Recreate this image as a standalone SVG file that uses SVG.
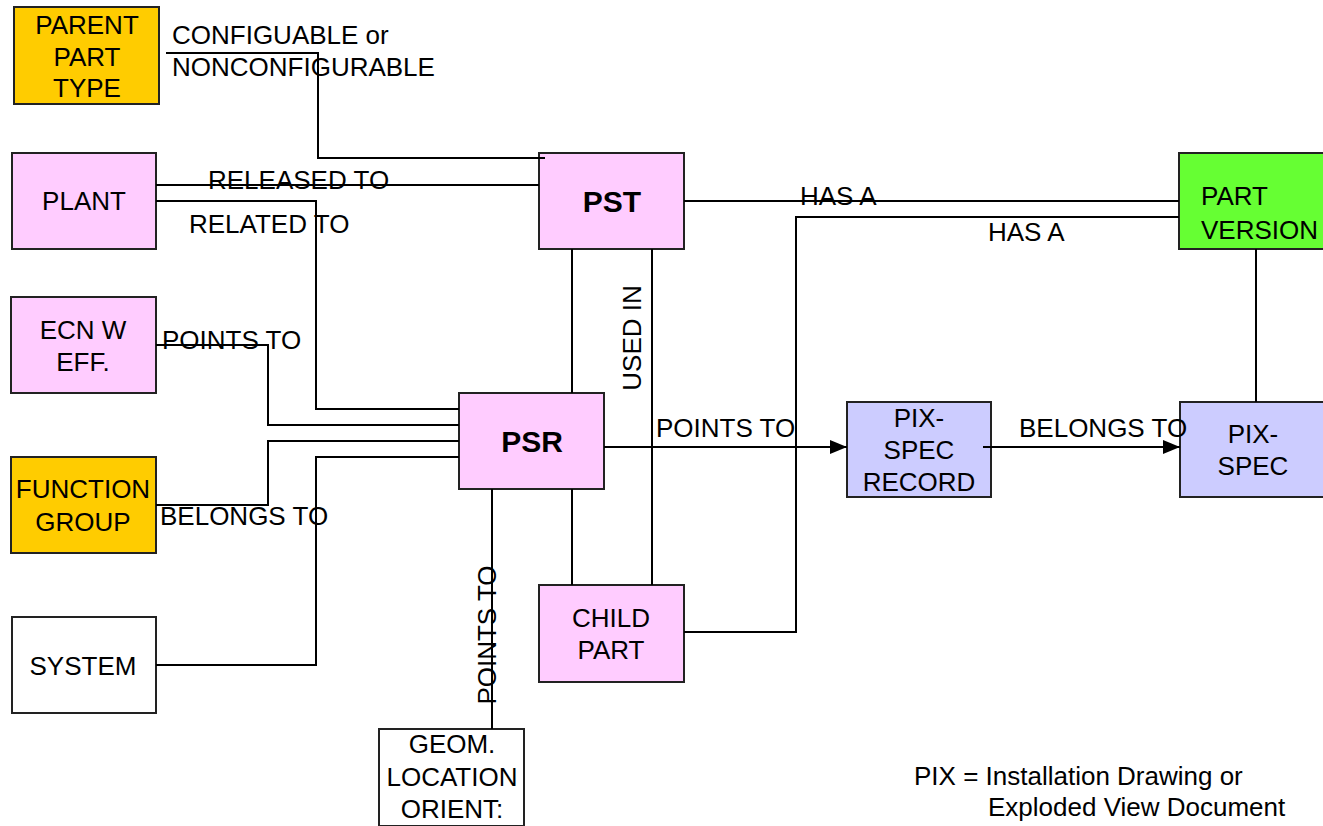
<svg xmlns="http://www.w3.org/2000/svg" width="1323" height="826" viewBox="0 0 1323 826">
<style>
.box{stroke:#222;stroke-width:2}
.pink{fill:#FFCCFF}.orange{fill:#FFCC00}.green{fill:#66FF33}.lav{fill:#CCCCFF}.white{fill:#FFFFFF}
text{font-family:"Liberation Sans",Arial,sans-serif;font-size:26px;fill:#000}
.c{text-anchor:middle}
.b{font-weight:bold;font-size:30px}
.ln{fill:none;stroke:#000;stroke-width:2}
</style>
<defs>
<marker id="arr" viewBox="0 0 17 14" refX="17" refY="7" markerWidth="17" markerHeight="14" markerUnits="userSpaceOnUse" orient="auto">
<path d="M0,0 L17,7 L0,14 Z" fill="#000"/>
</marker>
</defs>
<rect width="1323" height="826" fill="#fff"/>
<g id="parent-part-type"><rect class="box orange" x="14" y="7" width="145" height="97"/>
<text class="c" x="87" y="34">PARENT</text><text class="c" x="87" y="66">PART</text><text class="c" x="87" y="97">TYPE</text></g>
<g id="plant"><rect class="box pink" x="12" y="153" width="144" height="96"/><text class="c" x="84" y="210">PLANT</text></g>
<g id="ecn"><rect class="box pink" x="11" y="297" width="145" height="96"/><text class="c" x="83" y="339">ECN W</text><text class="c" x="83" y="371">EFF.</text></g>
<g id="function-group"><rect class="box orange" x="11" y="457" width="145" height="96"/><text class="c" x="83" y="498">FUNCTION</text><text class="c" x="83" y="531">GROUP</text></g>
<g id="system"><rect class="box white" x="12" y="617" width="144" height="96"/><text class="c" x="83" y="675">SYSTEM</text></g>
<g id="pst"><rect class="box pink" x="539" y="153" width="145" height="96"/><text class="c b" x="612" y="212">PST</text></g>
<g id="psr"><rect class="box pink" x="459" y="393" width="145" height="96"/><text class="c b" x="532" y="452">PSR</text></g>
<g id="child-part"><rect class="box pink" x="539" y="585" width="145" height="97"/><text class="c" x="611" y="627">CHILD</text><text class="c" x="611" y="659">PART</text></g>
<g id="geom"><rect class="box white" x="379" y="729" width="145" height="97"/><text class="c" x="452" y="753">GEOM.</text><text class="c" x="452" y="786">LOCATION</text><text class="c" x="452" y="818">ORIENT:</text></g>
<g id="part-version"><rect class="box green" x="1179" y="153" width="146" height="96"/><text x="1201" y="205">PART</text><text x="1201" y="239">VERSION</text></g>
<g id="pix-spec-record"><rect class="box lav" x="847" y="402" width="144" height="95"/><text class="c" x="919" y="427">PIX-</text><text class="c" x="919" y="459">SPEC</text><text class="c" x="919" y="491">RECORD</text></g>
<g id="pix-spec"><rect class="box lav" x="1180" y="402" width="146" height="95"/><text class="c" x="1253" y="443">PIX-</text><text class="c" x="1253" y="475">SPEC</text></g>
<g id="connectors">
<polyline class="ln" points="166,53 318,53 318,158 545,158"/>
<line class="ln" x1="156" y1="185" x2="539" y2="185"/>
<polyline class="ln" points="156,201 316,201 316,409 459,409"/>
<polyline class="ln" points="156,345 268,345 268,425 459,425"/>
<polyline class="ln" points="156,505 268,505 268,441 459,441"/>
<polyline class="ln" points="156,665 316,665 316,457 459,457"/>
<line class="ln" x1="572" y1="249" x2="572" y2="393"/>
<line class="ln" x1="572" y1="489" x2="572" y2="585"/>
<line class="ln" x1="652" y1="249" x2="652" y2="585"/>
<line class="ln" x1="492" y1="489" x2="492" y2="729"/>
<line class="ln" x1="684" y1="201" x2="1179" y2="201"/>
<polyline class="ln" points="684,632 796,632 796,217 1179,217"/>
<line class="ln" x1="1256" y1="249" x2="1256" y2="402"/>
<line class="ln" x1="604" y1="447" x2="847" y2="447" marker-end="url(#arr)"/>
<line class="ln" x1="983" y1="447" x2="1180" y2="447" marker-end="url(#arr)"/>
</g>
<g id="labels">
<text x="172" y="44">CONFIGUABLE or</text>
<text x="172" y="76">NONCONFIGURABLE</text>
<text x="208" y="189">RELEASED TO</text>
<text x="189" y="233">RELATED TO</text>
<text x="162" y="349">POINTS TO</text>
<text x="160" y="525">BELONGS TO</text>
<text x="800" y="205">HAS A</text>
<text x="988" y="241">HAS A</text>
<text x="656" y="437">POINTS TO</text>
<text x="1019" y="437">BELONGS TO</text>
<text class="c" transform="translate(641,338) rotate(-90)">USED IN</text>
<text class="c" transform="translate(496,635) rotate(-90)">POINTS TO</text>
<text x="914" y="785">PIX = Installation Drawing or</text>
<text x="988" y="816">Exploded View Document</text>
</g>
</svg>
